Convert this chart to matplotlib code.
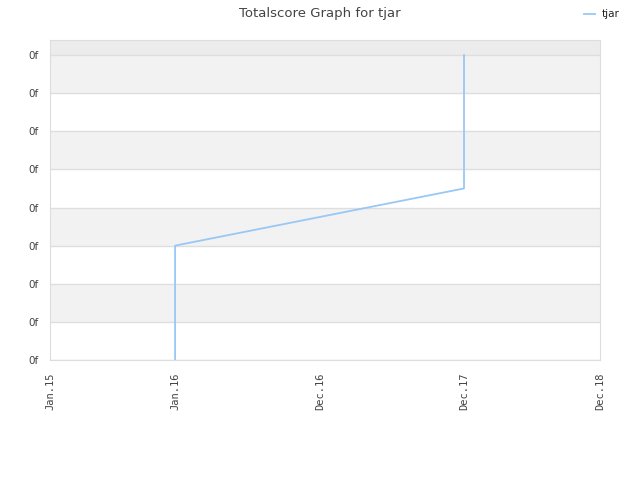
import matplotlib.pyplot as plt
import matplotlib.dates as mdates
import pandas as pd

# data (y in tick steps, labels all show "0f")
dates = pd.to_datetime(['2015-11-29', '2015-11-29', '2018-01-04', '2018-01-04'])
scores = [0, 3, 4.5, 8]

tick_dates = pd.to_datetime(['2015-01-01', '2015-11-29', '2016-12-18', '2018-01-04', '2018-12-31'])
tick_labels = ['Jan.15', 'Jan.16', 'Dec.16', 'Dec.17', 'Dec.18']
y_ticks = list(range(9))

fig = plt.figure(figsize=(6.4, 4.8), dpi=100)
ax = fig.add_axes([50 / 640, 1 - 360 / 480, 550 / 640, 320 / 480])

x_min = mdates.date2num(tick_dates[0])
x_max = mdates.date2num(tick_dates[-1])
y_top = 8 + 15 / 38.1

# alternating horizontal bands
ax.axhspan(8, y_top, color='#ececec', zorder=0, lw=0)
for i in range(8):
    if i % 2 == 1:
        ax.axhspan(i, i + 1, color='#f2f2f2', zorder=0, lw=0)
for y in y_ticks:
    ax.axhline(y, color='#dedede', lw=1, zorder=1)

ax.plot(dates, scores, color='#99c8f5', lw=1.3, label='tjar', zorder=3)

ax.set_xlim(x_min, x_max)
ax.set_ylim(0, y_top)
ax.set_xticks(mdates.date2num(tick_dates))
ax.set_xticklabels(tick_labels, rotation=90, fontsize=7.5, color='#444444', family='DejaVu Sans Mono')
ax.set_yticks(y_ticks)
ax.set_yticklabels(['0f'] * len(y_ticks), fontsize=7.5, color='#444444')
ax.tick_params(axis='x', length=0, pad=9)
ax.tick_params(axis='y', length=0, pad=8)

for s in ax.spines.values():
    s.set_color('#dddddd')

fig.suptitle('Totalscore Graph for tjar', x=0.5, y=0.985, fontsize=9.5, color='#444444')
fig.legend(loc='upper right', bbox_to_anchor=(0.983, 1.0), frameon=False, fontsize=7.5,
           handlelength=1.0, handletextpad=0.7, labelcolor='#222222')

plt.savefig('out.png', dpi=100)
